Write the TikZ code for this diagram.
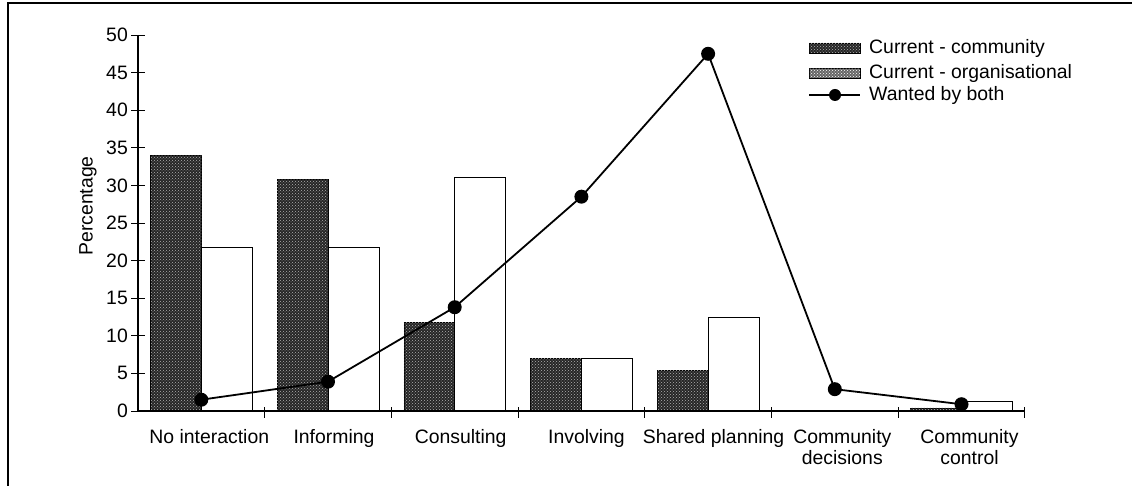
\documentclass[tikz,border=0pt]{standalone}
\usepackage{fontspec}
\setmainfont{Liberation Sans}
\usetikzlibrary{patterns}
\begin{document}
\begin{tikzpicture}[x=1pt,y=1pt,
  comm/.style={draw=black, line width=0.8pt, fill=black!85, postaction={pattern=crosshatch dots, pattern color=white!70!black}},
  orgbar/.style={draw=black, line width=0.8pt, fill=white},
  orgleg/.style={draw=black, line width=0.8pt, fill=black!60, postaction={pattern=crosshatch dots, pattern color=white}},
  dot/.style={circle, fill=black, inner sep=0pt, minimum size=14pt},
  txt/.style={font=\fontsize{19.4}{21.5}\selectfont, inner sep=0pt},
  cat/.style={txt, align=center, anchor=north},
  axisline/.style={line width=1.2pt},
  wline/.style={line width=1.8pt}]
\useasboundingbox (0,0) rectangle (1132,486);
% frame
\draw[line width=2.2pt] (8,0) -- (8,483) -- (1132,483);
% bars
\foreach \k/\c/\o in {0/34/21.8, 1/30.8/21.7, 2/11.8/31, 3/7.0/7.0, 4/5.4/12.5, 6/0.4/1.3}{
  \pgfmathsetmacro{\L}{138+126.7*\k}
  \pgfmathsetmacro{\cy}{75+7.52*\c}
  \pgfmathsetmacro{\oy}{75+7.52*\o}
  \draw[comm] ({\L+12.5},75) rectangle ({\L+63.3},\cy);
  \draw[orgbar] ({\L+63.3},75) rectangle ({\L+114.2},\oy);
}
% axes
\coordinate (o) at (138,75);
\coordinate (ytop) at (138,451);
\coordinate (xend) at (1025,75);
\draw[axisline] (ytop) -- (o) -- (xend);
\foreach \v in {0,5,...,50}{
  \pgfmathsetmacro{\yy}{75+7.52*\v}
  \draw[line width=0.9pt] (131,\yy) -- (145,\yy);
  \node[txt, anchor=east] (t\v) at (128,\yy) {\v};
}
\foreach \k in {1,...,7}{
  \pgfmathsetmacro{\xx}{138+126.7*\k}
  \draw[line width=0.9pt] (\xx,68) -- (\xx,79);
}
\node[txt, rotate=90] (ylab) at (88,280) {Percentage};
% category labels
\node[cat] (c0) at (209.3,57) {No interaction};
\node[cat] (c1) at (334.0,57) {Informing};
\node[cat] (c2) at (460.7,57) {Consulting};
\node[cat] (c3) at (586.4,57) {Involving};
\node[cat] (c4) at (713.6,57) {Shared planning};
\node[cat] (c5) at (842.3,57) {Community\\decisions};
\node[cat] (c6) at (969.5,57) {Community\\control};
% wanted line
\foreach \k/\w in {0/1.5, 1/3.9, 2/13.8, 3/28.5, 4/47.5, 5/2.9, 6/0.9}{
  \pgfmathsetmacro{\xx}{138+126.7*\k+63.3}
  \pgfmathsetmacro{\yy}{75+7.52*\w}
  \node[dot] (w\k) at (\xx,\yy) {};
}
\draw[wline] (w0.center) -- (w1.center) -- (w2.center) -- (w3.center) -- (w4.center) -- (w5.center) -- (w6.center);
% legend
\draw[comm] (809,433) rectangle (860,443);
\draw[orgleg] (809,408) rectangle (860,418);
\coordinate (la) at (809,391);
\coordinate (lb) at (860,391);
\node[dot, minimum size=12pt] (ld) at (835,391) {};
\draw[wline] (la) -- (lb);
\node[txt, anchor=west] (l1) at (869,438) {Current - community};
\node[txt, anchor=west] (l2) at (869,413) {Current - organisational};
\node[txt, anchor=west] (l3) at (869,391) {Wanted by both};
\end{tikzpicture}
\end{document}
